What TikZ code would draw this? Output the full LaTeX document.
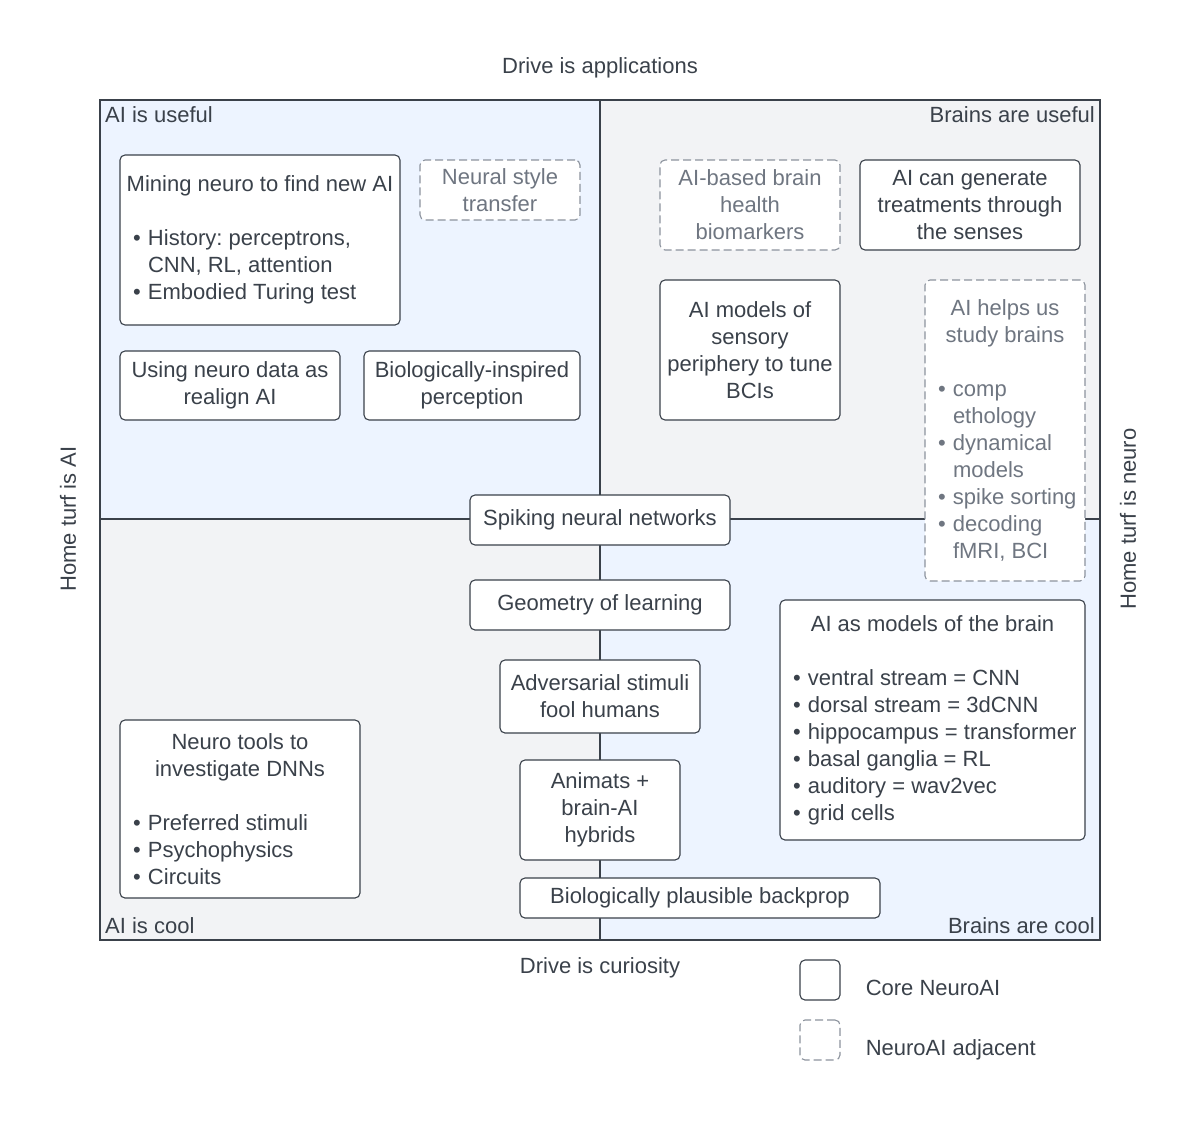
\documentclass[tikz,border=0pt]{standalone}
\usepackage{fontspec}
\setmainfont{Liberation Sans}
\usetikzlibrary{positioning}
\frenchspacing
\definecolor{QuadBlue}{RGB}{237,244,255}
\definecolor{QuadGray}{RGB}{242,243,245}
\definecolor{InkGray}{RGB}{58,65,74}
\definecolor{FadeGray}{RGB}{111,118,129}
\definecolor{EdgeGray}{RGB}{140,147,157}
\tikzset{
  frame/.style={draw=InkGray, line width=1.2pt},
  idea/.style={draw=InkGray, fill=white, rounded corners=5pt, line width=1.1pt,
    align=center, inner sep=0pt, text=InkGray},
  adjacent/.style={idea, draw=EdgeGray, text=FadeGray, dash pattern=on 8pt off 4pt},
  legendtext/.style={inner sep=0pt, text height=16pt, text depth=0pt},
}
\newcommand{\listline}[1]{\makebox[\listw][l]{#1}}
\newcommand{\bul}{\makebox[15pt][l]{•}}
\newcommand{\ind}{\hspace*{15pt}}

\begin{document}
\begin{tikzpicture}[x=1pt, y=1pt, font=\fontsize{22}{27}\selectfont, text=InkGray]
  \useasboundingbox (0,0) rectangle (1200,-1120);

  % --- (A) Quadrants and axes ---
  \coordinate (NW) at (100,-100);
  \coordinate (SE) at (1100,-940);
  \coordinate (M) at (600,-519);

  \fill[QuadBlue] (NW) rectangle (M);
  \fill[QuadGray] (M |- NW) rectangle (SE |- M);
  \fill[QuadGray] (NW |- M) rectangle (M |- SE);
  \fill[QuadBlue] (M) rectangle (SE);
  \draw[frame] (NW) rectangle (SE);
  \draw[frame] (M |- NW) -- (M |- SE);
  \draw[frame] (NW |- M) -- (SE |- M);

  \node (drivetop) at (600,-68) {Drive is applications};
  \node (drivebot) at (600,-968) {Drive is curiosity};
  \node[rotate=90] (turfai) at (68,-519) {Home turf is AI};
  \node[rotate=90] (turfneuro) at (1128,-519) {Home turf is neuro};

  \node[anchor=west, inner sep=0pt] (aiuseful) at (105,-115) {AI is useful};
  \node[anchor=east, inner sep=0pt] (brainuseful) at (1095,-115) {Brains are useful};
  \node[anchor=west, inner sep=0pt] (aicool) at (105,-926) {AI is cool};
  \node[anchor=east, inner sep=0pt] (braincool) at (1095,-926) {Brains are cool};

  % --- (B) AI is useful ---
  \begin{scope}
    \def\listw{254pt}
    \node[idea, minimum width=280pt, minimum height=170pt] (mining) at (260,-240)
      {Mining neuro to find new AI\\[27pt]
       \listline{\bul History: perceptrons,}\\
       \listline{\ind CNN, RL, attention}\\
       \listline{\bul Embodied Turing test}};
    \node[adjacent, minimum width=160pt, minimum height=60pt] (styletransfer) at (500,-190)
      {Neural style\\transfer};
    \node[idea, minimum width=220pt, minimum height=69pt] (realign) at (230,-385.5)
      {Using neuro data as\\realign AI};
    \node[idea, minimum width=216pt, minimum height=69pt] (bioperception) at (472,-385.5)
      {Biologically-inspired\\perception};
  \end{scope}

  % --- (C) Brains are useful ---
  \begin{scope}
    \def\listw{134pt}
    \node[adjacent, minimum width=180pt, minimum height=90pt] (biomarkers) at (750,-205)
      {AI-based brain\\health\\biomarkers};
    \node[idea, minimum width=220pt, minimum height=90pt] (treatments) at (970,-205)
      {AI can generate\\treatments through\\the senses};
    \node[idea, minimum width=180pt, minimum height=140pt] (periphery) at (750,-350)
      {AI models of\\sensory\\periphery to tune\\BCIs};
    \node[adjacent, minimum width=160pt, minimum height=301pt] (studybrains) at (1005,-430.5)
      {AI helps us\\study brains\\[27pt]
       \listline{\bul comp}\\
       \listline{\ind ethology}\\
       \listline{\bul dynamical}\\
       \listline{\ind models}\\
       \listline{\bul spike sorting}\\
       \listline{\bul decoding}\\
       \listline{\ind fMRI, BCI}};
  \end{scope}

  % --- (D) Along the middle line ---
  \node[idea, minimum width=260pt, minimum height=50pt] (spiking) at (600,-520)
    {Spiking neural networks};
  \node[idea, minimum width=260pt, minimum height=50pt] (geometry) at (600,-605)
    {Geometry of learning};
  \node[idea, minimum width=200pt, minimum height=73pt] (adversarial) at (600,-696.5)
    {Adversarial stimuli\\fool humans};
  \node[idea, minimum width=160pt, minimum height=100pt] (animats) at (600,-810)
    {Animats +\\brain-AI\\hybrids};
  \node[idea, minimum width=360pt, minimum height=40pt] (backprop) at (700,-898)
    {Biologically plausible backprop};

  % --- (E) Cool quadrants ---
  \begin{scope}
    \def\listw{279pt}
    \node[idea, minimum width=305pt, minimum height=240pt] (brainmodels) at (932.5,-720)
      {AI as models of the brain\\[27pt]
       \listline{\bul ventral stream = CNN}\\
       \listline{\bul dorsal stream = 3dCNN}\\
       \listline{\bul hippocampus = transformer}\\
       \listline{\bul basal ganglia = RL}\\
       \listline{\bul auditory = wav2vec}\\
       \listline{\bul grid cells}};
  \end{scope}
  \begin{scope}
    \def\listw{214pt}
    \node[idea, minimum width=240pt, minimum height=178pt] (neurotools) at (240,-809)
      {Neuro tools to\\investigate DNNs\\[27pt]
       \listline{\bul Preferred stimuli}\\
       \listline{\bul Psychophysics}\\
       \listline{\bul Circuits}};
  \end{scope}

  % --- (F) Legend ---
  \node[idea, minimum size=40pt] (legcore) at (820,-980) {};
  \node[adjacent, minimum size=40pt] (legadj) at (820,-1040) {};
  \node[legendtext, right=25pt of legcore, yshift=-7pt] (legcoretext) {Core NeuroAI};
  \node[legendtext, right=25pt of legadj, yshift=-7pt] (legadjtext) {NeuroAI adjacent};

\end{tikzpicture}
\end{document}
